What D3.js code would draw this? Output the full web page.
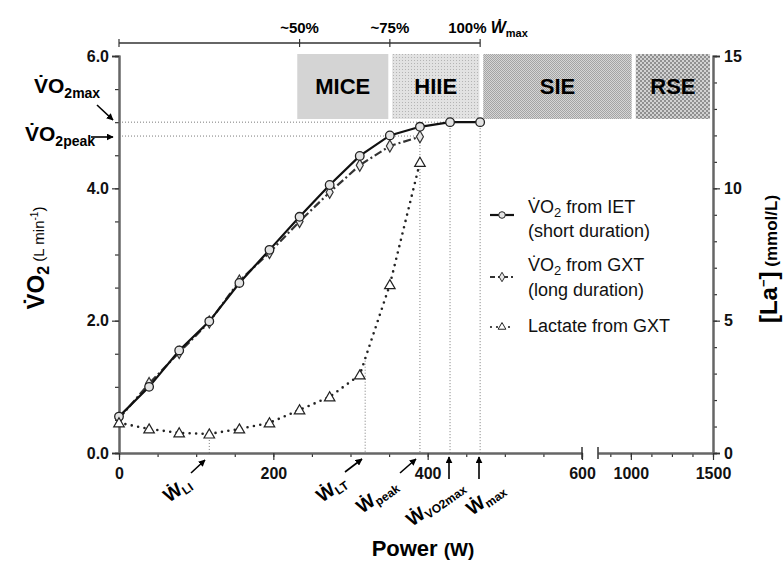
<!DOCTYPE html>
<html><head><meta charset="utf-8">
<script src="https://cdn.jsdelivr.net/npm/d3@7"></script>
<style>
body{margin:0;background:#fff;}
text{font-family:"Liberation Sans",Arial,sans-serif;}
</style></head>
<body><svg id="c" width="784" height="568"></svg>
<script>
// ---------- data ----------
const powerIET = [0,39,78,117,156,195,234,273,312,351,390,429,468];
const vo2IET   = [0.55,1.00,1.55,1.99,2.57,3.07,3.57,4.05,4.49,4.80,4.93,5.00,5.00];
const powerGXT = [0,39,78,117,156,195,234,273,312,351,390];
const vo2GXT   = [0.52,1.05,1.52,1.98,2.60,3.03,3.50,3.94,4.35,4.64,4.78];
const lactateGXT = [1.14,0.91,0.76,0.72,0.91,1.14,1.63,2.12,2.95,6.36,10.98];

const wmax = 468;
const vo2max = 5.00, vo2peak = 4.79;

const domainNames = ["MICE","HIIE","SIE","RSE"];
const domainFrom  = [231,354,472,1030];
const domainTo    = [349,467,1005,1482];

const bracketTicks  = [0, 0.5, 0.75, 1.0];           // fraction of Wmax
const bracketLabels = ["", "~50%", "~75%", "100%"];

const markerNames = ["LI","LT","peak","VO2max","max"];
const markerPower = [117,319,390,429,468];
const markerTop   = [0.72,3.6,4.79,5.0,5.0];
const markerAxis  = ["R","R","L","L","L"];

const xTicksA = [0,200,400,600], xMinorA = d3.range(0,601,50);
const xTicksB = [1000,1500], xMinorB = [875,1000,1125,1250,1375,1500];
const yTicksL = [0,2,4,6], yMinorL = d3.range(0,6.01,0.5);
const yTicksR = [0,5,10,15], yMinorR = d3.range(0,15.01,1);

// ---------- scales ----------
const svg = d3.select("#c");
const x  = d3.scaleLinear().domain([0,600,800,1500]).range([119,582,598,713]);
const xa = d3.scaleLinear().domain([0,600]).range([119,582]);
const xb = d3.scaleLinear().domain([800,1500]).range([598,713]);
const yL = d3.scaleLinear().domain([0,6]).range([453,56]);
const yR = d3.scaleLinear().domain([0,15]).range([453,56]);

// ---------- patterns ----------
const defs = svg.append("defs");
let p = defs.append("pattern").attr("id","pHIIE").attr("width",3).attr("height",3).attr("patternUnits","userSpaceOnUse");
p.append("rect").attr("width",3).attr("height",3).attr("fill","#e2e2e2");
p.append("rect").attr("width",1).attr("height",1).attr("fill","#b4b4b4");
p = defs.append("pattern").attr("id","pSIE").attr("width",2).attr("height",2).attr("patternUnits","userSpaceOnUse");
p.append("rect").attr("width",2).attr("height",2).attr("fill","#d6d6d6");
p.append("rect").attr("width",1).attr("height",1).attr("fill","#a4a4a4");
p.append("rect").attr("x",1).attr("y",1).attr("width",1).attr("height",1).attr("fill","#a4a4a4");
p = defs.append("pattern").attr("id","pRSE").attr("width",4).attr("height",4).attr("patternUnits","userSpaceOnUse");
p.append("rect").attr("width",4).attr("height",4).attr("fill","#d2d2d2");
p.append("rect").attr("width",2).attr("height",2).attr("fill","#909090");
p.append("rect").attr("x",2).attr("y",2).attr("width",2).attr("height",2).attr("fill","#909090");
const fills = ["#d4d4d4","url(#pHIIE)","url(#pSIE)","url(#pRSE)"];

defs.append("marker").attr("id","arr").attr("viewBox","0 0 10 10").attr("refX",9).attr("refY",5)
  .attr("markerWidth",7).attr("markerHeight",7).attr("markerUnits","userSpaceOnUse").attr("orient","auto")
  .append("path").attr("d","M0,0L10,5L0,10z").attr("fill","#000");

// ---------- domain boxes ----------
const boxTop = 54, boxBot = 119;
domainNames.forEach((n,i)=>{
  svg.append("rect").attr("x",x(domainFrom[i])).attr("y",boxTop)
    .attr("width",x(domainTo[i])-x(domainFrom[i])).attr("height",boxBot-boxTop).attr("fill",fills[i]);
  svg.append("text").attr("x",(x(domainFrom[i])+x(domainTo[i]))/2).attr("y",94)
    .attr("text-anchor","middle").attr("font-size",22).attr("font-weight","bold").text(n);
});

// ---------- reference dotted lines ----------
const ref = svg.append("g").attr("stroke","#7a7a7a").attr("stroke-width",1).attr("stroke-dasharray","1,2").attr("fill","none");
ref.append("line").attr("x1",x(0)).attr("x2",x(wmax)).attr("y1",yL(vo2max)).attr("y2",yL(vo2max));
ref.append("line").attr("x1",x(0)).attr("x2",x(390)).attr("y1",yL(vo2peak)).attr("y2",yL(vo2peak));
markerPower.forEach((w,i)=>{
  const yt = markerAxis[i]==="R" ? yR(markerTop[i]) : yL(markerTop[i]);
  ref.append("line").attr("x1",x(w)).attr("x2",x(w)).attr("y1",yt).attr("y2",yL(0));
});

// ---------- axes ----------
const axisColor = "#666";
function styleAxis(g){ g.select(".domain").attr("stroke",axisColor).attr("stroke-width",2); g.selectAll(".tick line").attr("stroke","#333").attr("stroke-width",1.2); g.selectAll("text").attr("font-size",16).attr("font-weight","bold").attr("fill","#111").attr("font-family","Liberation Sans, Arial, sans-serif"); }
// left
svg.append("g").attr("transform","translate(119,0)").call(d3.axisLeft(yL).tickValues(yMinorL).tickSize(4).tickFormat("")).call(styleAxis);
svg.append("g").attr("transform","translate(119,0)").call(d3.axisLeft(yL).tickValues(yTicksL).tickSize(7).tickPadding(3).tickFormat(d3.format(".1f"))).call(styleAxis);
// right
svg.append("g").attr("transform","translate(713,0)").call(d3.axisRight(yR).tickValues(yMinorR).tickSize(4).tickFormat("")).call(styleAxis);
svg.append("g").attr("transform","translate(713,0)").call(d3.axisRight(yR).tickValues(yTicksR).tickSize(7).tickPadding(4).tickFormat(d3.format("d"))).call(styleAxis);
// bottom segment A
svg.append("g").attr("transform","translate(0,453)").call(d3.axisBottom(xa).tickValues(xMinorA).tickSize(4).tickFormat("").tickSizeOuter(0)).call(styleAxis);
svg.append("g").attr("transform","translate(0,453)").call(d3.axisBottom(xa).tickValues(xTicksA).tickSize(7).tickPadding(8).tickFormat(d3.format("d")).tickSizeOuter(0)).call(styleAxis);
// bottom segment B
svg.append("g").attr("transform","translate(0,453)").call(d3.axisBottom(xb).tickValues(xMinorB).tickSize(4).tickFormat("").tickSizeOuter(0)).call(styleAxis);
svg.append("g").attr("transform","translate(0,453)").call(d3.axisBottom(xb).tickValues(xTicksB).tickSize(7).tickPadding(8).tickFormat(d3.format("d")).tickSizeOuter(0)).call(styleAxis);
// break marks
[xa(600), xb(800)].forEach(v=>svg.append("line").attr("x1",v).attr("x2",v).attr("y1",447).attr("y2",459).attr("stroke","#333").attr("stroke-width",1.5));

// top bracket
const br = svg.append("g");
br.append("line").attr("x1",x(0)).attr("x2",x(wmax)).attr("y1",43).attr("y2",43).attr("stroke",axisColor).attr("stroke-width",2);
bracketTicks.forEach((f,i)=>{
  const xx = x(f*wmax);
  br.append("line").attr("x1",xx).attr("x2",xx).attr("y1",39).attr("y2",47).attr("stroke","#333").attr("stroke-width",1.2);
});
[1,2].forEach(i=>br.append("text").attr("x",x(bracketTicks[i]*wmax)).attr("y",33).attr("text-anchor","middle")
  .attr("font-size",15).attr("font-weight","bold").text(bracketLabels[i]));
{
  const t = br.append("text").attr("x",x(wmax)-32).attr("y",33).attr("font-size",15).attr("font-weight","bold");
  t.append("tspan").text(bracketLabels[3]+" ");
  t.append("tspan").attr("font-style","italic").attr("font-size",16).text("\u1E86");
  t.append("tspan").attr("font-size",11).attr("dy",4).text("max");
}

// ---------- series ----------
const lineL = d3.line().x(d=>x(d[0])).y(d=>yL(d[1]));
const lineR = d3.line().x(d=>x(d[0])).y(d=>yR(d[1]));
const iet = powerIET.map((w,i)=>[w,vo2IET[i]]);
const gxt = powerGXT.map((w,i)=>[w,vo2GXT[i]]);
const lac = powerGXT.map((w,i)=>[w,lactateGXT[i]]);

svg.append("path").datum(lac).attr("d",lineR).attr("fill","none").attr("stroke","#222").attr("stroke-width",2.6)
  .attr("stroke-linecap","round").attr("stroke-dasharray","0,6.5");
svg.append("path").datum(gxt).attr("d",lineL).attr("fill","none").attr("stroke","#333").attr("stroke-width",2.2)
  .attr("stroke-dasharray","8,3,2,3");
svg.append("path").datum(iet).attr("d",lineL).attr("fill","none").attr("stroke","#111").attr("stroke-width",2.2);

const dia = d3.symbol().type(d3.symbolDiamond).size(42);
const tri = d3.symbol().type(d3.symbolTriangle).size(48);
svg.append("g").selectAll("path").data(gxt).join("path").attr("d",dia)
  .attr("transform",d=>`translate(${x(d[0])},${yL(d[1])})`).attr("fill","#e8e8e8").attr("stroke","#333").attr("stroke-width",1.2);
svg.append("g").selectAll("circle").data(iet).join("circle").attr("cx",d=>x(d[0])).attr("cy",d=>yL(d[1])).attr("r",4.3)
  .attr("fill","#e4e4e4").attr("stroke","#222").attr("stroke-width",1.3);
svg.append("g").selectAll("path").data(lac).join("path").attr("d",tri)
  .attr("transform",d=>`translate(${x(d[0])},${yR(d[1])+1})`).attr("fill","#fff").attr("stroke","#222").attr("stroke-width",1.2);

// ---------- legend ----------
const lg = svg.append("g");
const legY = [215,277,327];
lg.append("line").attr("x1",490).attr("x2",514).attr("y1",legY[0]).attr("y2",legY[0]).attr("stroke","#111").attr("stroke-width",2.2);
lg.append("circle").attr("cx",502).attr("cy",legY[0]).attr("r",3.3).attr("fill","#e4e4e4").attr("stroke","#222");
lg.append("line").attr("x1",490).attr("x2",514).attr("y1",legY[1]).attr("y2",legY[1]).attr("stroke","#333").attr("stroke-width",2.2).attr("stroke-dasharray","5,3,2,3");
lg.append("path").attr("d",d3.symbol().type(d3.symbolDiamond).size(26)).attr("transform",`translate(502,${legY[1]})`).attr("fill","#e8e8e8").attr("stroke","#333");
lg.append("line").attr("x1",491).attr("x2",514).attr("y1",legY[2]).attr("y2",legY[2]).attr("stroke","#222").attr("stroke-width",2.2).attr("stroke-linecap","round").attr("stroke-dasharray","0,6");
lg.append("path").attr("d",d3.symbol().type(d3.symbolTriangle).size(26)).attr("transform",`translate(502,${legY[2]})`).attr("fill","#fff").attr("stroke","#222");
function legText(y, parts){
  const t = lg.append("text").attr("x",528).attr("y",y).attr("font-size",18).attr("fill","#111");
  parts.forEach(p=>{ const s=t.append("tspan").text(p[0]); if(p[1]) s.attr("font-size",p[1]); if(p[2]) s.attr("dy",p[2]); });
}
legText(213,[["V\u0307O"],["2",13,4],[" from IET",null,-4]]);
legText(237,[["(short duration)"]]);
legText(271,[["V\u0307O"],["2",13,4],[" from GXT",null,-4]]);
legText(296,[["(long duration)"]]);
legText(332,[["Lactate from GXT"]]);

// ---------- axis titles ----------
svg.append("text").attr("x",423).attr("y",556).attr("text-anchor","middle").attr("font-size",22).attr("font-weight","bold")
  .call(t=>{t.append("tspan").text("Power "); t.append("tspan").attr("font-size",19).text("(W)");});
{
  const t = svg.append("text").attr("transform","translate(44,258) rotate(-90)").attr("text-anchor","middle").attr("font-weight","bold").attr("font-size",24);
  t.append("tspan").text("V\u0307O");
  t.append("tspan").attr("font-size",16).attr("dy",5).text("2");
  t.append("tspan").attr("font-size",15).attr("font-weight","normal").attr("dy",-5).text(" (L min");
  t.append("tspan").attr("font-size",10).attr("font-weight","normal").attr("dy",-6).text("-1");
  t.append("tspan").attr("font-size",15).attr("font-weight","normal").attr("dy",6).text(")");
}
{
  const t = svg.append("text").attr("transform","translate(777,259) rotate(-90)").attr("text-anchor","middle").attr("font-weight","bold").attr("font-size",24);
  t.append("tspan").text("[La");
  t.append("tspan").attr("font-size",13).attr("dy",-9).text("\u2212");
  t.append("tspan").attr("dy",9).text("]");
  t.append("tspan").attr("font-size",17).text(" (mmol/L)");
}

// ---------- left annotations ----------
function vo2Label(xp, yp, sub){
  const t = svg.append("text").attr("x",xp).attr("y",yp).attr("font-size",21).attr("font-weight","bold");
  t.append("tspan").text("V\u0307O");
  t.append("tspan").attr("font-size",14).attr("dy",5).text(sub);
}
vo2Label(34,93,"2max");
vo2Label(25,141,"2peak");
svg.append("line").attr("x1",97).attr("y1",105).attr("x2",113).attr("y2",120).attr("stroke","#000").attr("stroke-width",1.6).attr("marker-end","url(#arr)");
svg.append("line").attr("x1",91).attr("y1",137).attr("x2",113).attr("y2",137).attr("stroke","#000").attr("stroke-width",1.6).attr("marker-end","url(#arr)");

// ---------- bottom annotations ----------
const annPos = [[169,503],[322,503],[362,514],[412,527],[472,516]];
const annSub = ["LI","LT","peak","VO2max","max"];
const annArrow = [[191,473,205,460],[345,472,362,459],[400,473,416,459],[449,479,449,457],[479,479,479,457]];
markerNames.forEach((n,i)=>{
  const t = svg.append("text").attr("transform",`translate(${annPos[i][0]},${annPos[i][1]}) rotate(-35)`).attr("font-weight","bold").attr("font-size",19);
  t.append("tspan").text("\u1E86");
  t.append("tspan").attr("font-size",12).attr("dy",3).text(annSub[i]);
  const a = annArrow[i];
  svg.append("line").attr("x1",a[0]).attr("y1",a[1]).attr("x2",a[2]).attr("y2",a[3]).attr("stroke","#000").attr("stroke-width",1.6).attr("marker-end","url(#arr)");
});
</script></body></html>
